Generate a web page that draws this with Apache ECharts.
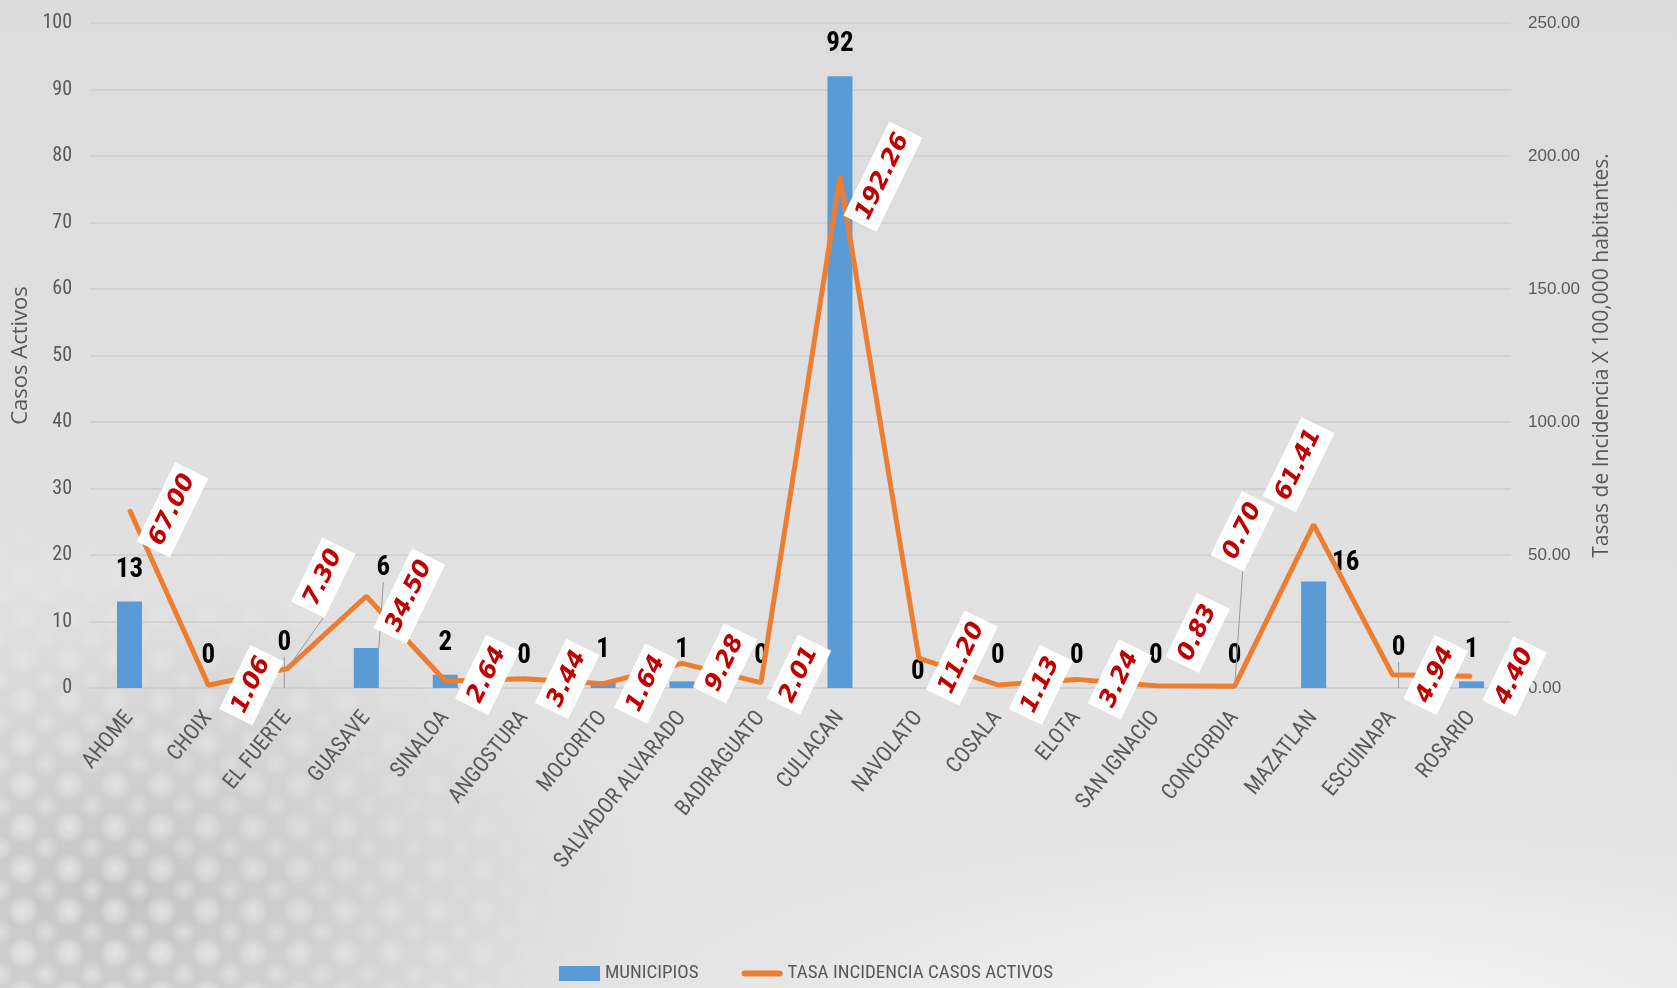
<!DOCTYPE html>
<html>
<head>
<meta charset="utf-8">
<script src="https://cdn.jsdelivr.net/npm/echarts@6/dist/echarts.min.js"></script>
<style>
html, body { margin:0; padding:0; width:1677px; height:988px; overflow:hidden; }
body {
  position:relative;
  background:
    radial-gradient(ellipse 1000px 260px at 1350px 1010px, rgba(245,245,245,0.9), rgba(245,245,245,0) 70%),
    radial-gradient(ellipse 700px 420px at 120px 900px, rgba(170,170,170,0.55), rgba(170,170,170,0) 75%),
    linear-gradient(180deg, #dcdcdc 0%, #e0e0e0 45%, #e4e4e4 100%);
}
#bokeh {
  position:absolute; left:0; top:470px; width:760px; height:518px;
  background:
    radial-gradient(circle at 50% 50%, rgba(255,255,255,0.5) 0, rgba(255,255,255,0.3) 9px, rgba(255,255,255,0) 16px) 0 0/46px 42px,
    radial-gradient(circle at 50% 50%, rgba(255,255,255,0.4) 0, rgba(255,255,255,0.2) 7px, rgba(255,255,255,0) 13px) 23px 21px/46px 42px;
  -webkit-mask-image: radial-gradient(ellipse 620px 480px at 0% 100%, rgba(0,0,0,1) 30%, rgba(0,0,0,0) 100%);
  mask-image: radial-gradient(ellipse 620px 480px at 0% 100%, rgba(0,0,0,1) 30%, rgba(0,0,0,0) 100%);
}
#chart { position:absolute; left:0; top:0; width:1677px; height:988px; }
</style>
</head>
<body>
<div id="bokeh"></div>
<div id="chart"></div>
<script>
// ---- data ----
const categories = ['AHOME','CHOIX','EL FUERTE','GUASAVE','SINALOA','ANGOSTURA','MOCORITO','SALVADOR ALVARADO','BADIRAGUATO','CULIACAN','NAVOLATO','COSALA','ELOTA','SAN IGNACIO','CONCORDIA','MAZATLAN','ESCUINAPA','ROSARIO'];
const municipios = [13, 0, 0, 6, 2, 0, 1, 1, 0, 92, 0, 0, 0, 0, 0, 16, 0, 1];
const tasaIncidencia = [67.00, 1.06, 7.30, 34.50, 2.64, 3.44, 1.64, 9.28, 2.01, 192.26, 11.20, 1.13, 3.24, 0.83, 0.70, 61.41, 4.94, 4.40];
const leftAxisTicks = { min: 0, max: 100, interval: 10 };
const rightAxisTicks = { min: 0, max: 250, interval: 50 };
const seriesNames = ['MUNICIPIOS', 'TASA INCIDENCIA CASOS ACTIVOS'];

// ---- label placement (style, not data) ----
const LINE_LABEL_ROTATE = 64;
const lineLabelDefault = [43, 0];
const lineLabelShift = { 2: [36, -91], 4: [42, -6], 8: [38, -8], 13: [42, -53], 14: [8, -155], 15: [-15, -60] };
const lineLeader = [2, 14];
const barLabelShift = { 2: [-3, -13], 3: [17, -48], 10: [-1, 16], 15: [32, 13], 16: [6, -8] };
const barLeader = [2, 3, 16];

const NARROW = "'Liberation Sans Narrow', 'Roboto Condensed', Roboto, sans-serif";
const GREY = '#595959';
const leaderStyle = { show: true, length2: 0, lineStyle: { color: '#9a9a9a', width: 1 } };

// screen-space shift -> label local frame (label is rotated)
function toLocal(s) {
  const a = LINE_LABEL_ROTATE * Math.PI / 180;
  return [s[0] * Math.cos(a) - s[1] * Math.sin(a), s[0] * Math.sin(a) + s[1] * Math.cos(a)];
}

const barData = municipios.map((v, i) => barLeader.includes(i) ? { value: v, labelLine: leaderStyle } : v);
const lineData = tasaIncidencia.map((v, i) => lineLeader.includes(i) ? { value: v, labelLine: leaderStyle } : v);

const chart = echarts.init(document.getElementById('chart'), null, { renderer: 'canvas' });
chart.setOption({
  animation: false,
  backgroundColor: 'transparent',
  grid: { left: 90, right: 166, top: 23, bottom: 300, containLabel: false },
  legend: {
    left: 554, top: 959,
    itemWidth: 41, itemHeight: 15, itemGap: 43,
    textStyle: { color: GREY, fontFamily: NARROW, fontSize: 19 },
    data: [
      { name: seriesNames[0], icon: 'rect' },
      { name: seriesNames[1], icon: 'path://M3,0 H38 A3,3 0 0 1 38,6 H3 A3,3 0 0 1 3,0 Z' }
    ]
  },
  xAxis: {
    type: 'category',
    data: categories,
    axisLine: { lineStyle: { color: '#d0d0d0', width: 2 } },
    axisTick: { show: false },
    axisLabel: { interval: 0, rotate: 51, margin: 26, color: GREY, fontFamily: NARROW, fontSize: 22 }
  },
  yAxis: [
    {
      type: 'value', min: leftAxisTicks.min, max: leftAxisTicks.max, interval: leftAxisTicks.interval,
      name: 'Casos Activos', nameLocation: 'middle', nameGap: 49, nameRotate: 90,
      nameTextStyle: { color: GREY, fontFamily: "'Open Sans', sans-serif", fontSize: 22 },
      axisLine: { show: false }, axisTick: { show: false },
      axisLabel: { color: GREY, fontFamily: NARROW, fontSize: 20, margin: 18 },
      splitLine: { lineStyle: { color: '#d2d2d2', width: 2 } }
    },
    {
      type: 'value', min: rightAxisTicks.min, max: rightAxisTicks.max, interval: rightAxisTicks.interval,
      name: 'Tasas de Incidencia X 100,000 habitantes.', nameLocation: 'middle', nameGap: 81, nameRotate: 90,
      nameTextStyle: { color: GREY, fontFamily: "'Open Sans', sans-serif", fontSize: 21 },
      axisLine: { show: false }, axisTick: { show: false },
      axisLabel: { color: GREY, fontFamily: "'Liberation Sans', sans-serif", fontSize: 17, margin: 17,
                   formatter: v => v.toFixed(2) },
      splitLine: { show: false }
    }
  ],
  series: [
    {
      name: seriesNames[0],
      type: 'bar',
      yAxisIndex: 0,
      data: barData,
      barWidth: 25,
      itemStyle: { color: '#5B9BD5' },
      label: {
        show: true, position: 'top', distance: 18,
        color: '#000', fontFamily: NARROW, fontWeight: 'bold', fontSize: 27
      },
      labelLayout: p => {
        const s = barLabelShift[p.dataIndex];
        return s ? { dx: s[0], dy: s[1] } : {};
      }
    },
    {
      name: seriesNames[1],
      type: 'line',
      yAxisIndex: 1,
      data: lineData,
      symbol: 'circle', symbolSize: 2, showSymbol: true,
      itemStyle: { color: '#ED7D31' },
      lineStyle: { color: '#ED7D31', width: 5 },
      z: 3,
      label: {
        show: true, position: 'inside', rotate: LINE_LABEL_ROTATE,
        formatter: p => Number(p.value).toFixed(2),
        color: '#C00000', fontFamily: "'DejaVu Sans', sans-serif", fontWeight: 'bold', fontStyle: 'italic', fontSize: 24,
        backgroundColor: '#ffffff', padding: [7, 6, 6, 6]
      },
      labelLayout: p => {
        const l = toLocal(lineLabelShift[p.dataIndex] || lineLabelDefault);
        return { dx: l[0], dy: l[1] };
      }
    }
  ]
});
</script>
</body>
</html>
